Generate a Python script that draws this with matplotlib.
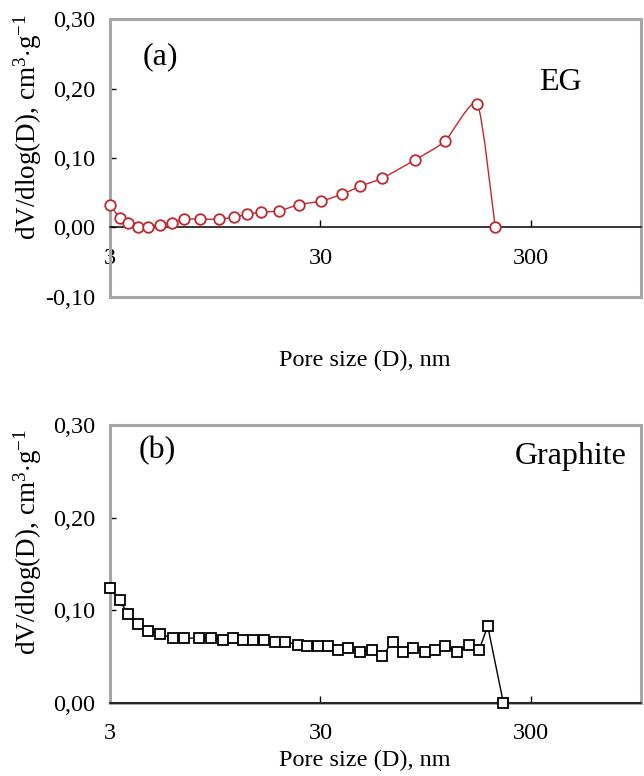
import numpy as np
import matplotlib
matplotlib.use("Agg")
import matplotlib.pyplot as plt
from matplotlib.path import Path
from matplotlib.patches import PathPatch, Rectangle
from matplotlib.ticker import FixedLocator, FixedFormatter, NullLocator

plt.rcParams['font.family'] = ['Liberation Serif', 'DejaVu Serif']
plt.rcParams['mathtext.fontset'] = 'custom'
plt.rcParams['mathtext.rm'] = 'Liberation Serif'
plt.rcParams['mathtext.it'] = 'Liberation Serif:italic'

# (a) expanded graphite
d_eg = [3.00, 3.35, 3.67, 4.09, 4.57, 5.19, 5.90, 6.75, 8.05, 9.84, 11.7, 13.4,
        15.7, 19.1, 23.8, 30.3, 38.1, 46.0, 59.0, 84.1, 117, 167, 203]
v_eg = [0.033, 0.013, 0.007, 0.001, 0.001, 0.004, 0.007, 0.012, 0.012, 0.012,
        0.015, 0.019, 0.022, 0.024, 0.033, 0.038, 0.048, 0.059, 0.071, 0.097,
        0.124, 0.178, 0.000]

# (b) graphite
d_gr = [3.00, 3.33, 3.65, 4.07, 4.57, 5.21, 5.96, 6.77, 7.92, 9.03, 10.3, 11.5,
        12.9, 14.4, 16.1, 18.2, 20.4, 23.4, 26.0, 29.2, 32.6, 36.4, 40.7, 46.0,
        53.0, 59.1, 66.1, 73.8, 82.5, 93.9, 105, 117, 134, 152, 170, 187, 222]
v_gr = [0.124, 0.111, 0.096, 0.085, 0.078, 0.074, 0.070, 0.070, 0.070, 0.070,
        0.068, 0.070, 0.068, 0.068, 0.068, 0.066, 0.066, 0.063, 0.061, 0.061,
        0.061, 0.057, 0.059, 0.055, 0.057, 0.051, 0.066, 0.055, 0.059, 0.055,
        0.057, 0.061, 0.055, 0.063, 0.057, 0.083, 0.000]

x_ticks = [3, 30, 300]
x_ticklabels = ['3', '30', '300']
y_ticks_a = [-0.10, 0.00, 0.10, 0.20, 0.30]
y_ticklabels_a = ['-0,10', '0,00', '0,10', '0,20', '0,30']
y_ticks_b = [0.00, 0.10, 0.20, 0.30]
y_ticklabels_b = ['0,00', '0,10', '0,20', '0,30']

RED = '#c1272d'
FRAME = '#a6a6a6'


def smooth_path(x, y, k=10.0):
    # cubic Bezier through the points, tangents taken in log-x space
    lx = np.log10(np.asarray(x, float))
    yy = np.asarray(y, float)
    px = np.r_[lx[0], lx, lx[-1]]
    py = np.r_[yy[0], yy, yy[-1]]
    verts = [(x[0], y[0])]
    codes = [Path.MOVETO]
    for i in range(1, len(px) - 2):
        c1x = px[i] + (px[i + 1] - px[i - 1]) / k
        c1y = py[i] + (py[i + 1] - py[i - 1]) / k
        c2x = px[i + 1] - (px[i + 2] - px[i]) / k
        c2y = py[i + 1] - (py[i + 2] - py[i]) / k
        verts += [(10 ** c1x, c1y), (10 ** c2x, c2y), (10 ** px[i + 1], py[i + 1])]
        codes += [Path.CURVE4] * 3
    return Path(verts, codes)


def style_axes(ax, yticks, ylabels, ylim):
    ax.set_xscale('log')
    ax.set_xlim(3, 1000)
    ax.set_ylim(*ylim)
    ax.xaxis.set_major_locator(FixedLocator(x_ticks))
    ax.xaxis.set_major_formatter(FixedFormatter(x_ticklabels))
    ax.xaxis.set_minor_locator(NullLocator())
    ax.yaxis.set_major_locator(FixedLocator(yticks))
    ax.yaxis.set_major_formatter(FixedFormatter(ylabels))
    ax.tick_params(axis='x', direction='in', length=5, width=1, pad=14.5,
                   labelsize=17.5, color='black')
    ax.tick_params(axis='y', direction='in', length=4.5, width=1, pad=10.5,
                   labelsize=17.5, color='black')
    for s in ('left', 'right', 'top'):
        ax.spines[s].set_visible(False)
    ax.spines['bottom'].set_color('black')
    ax.spines['bottom'].set_linewidth(1.1)
    ax.spines['bottom'].set_zorder(3)
    ax.add_patch(Rectangle((0, 0), 1, 1, transform=ax.transAxes, fill=False,
                           ec=FRAME, lw=2.2, clip_on=False, zorder=2))
    ax.set_xlabel('Pore size (D), nm', fontsize=17.5)
    ax.set_ylabel(r'dV/dlog(D), cm$^{3}$$\cdot$g$^{-1}$', fontsize=19.5)


fig = plt.figure(figsize=(6.44, 7.76), dpi=100)

ax1 = fig.add_axes([0.1708, 0.6173, 0.8245, 0.3582])
style_axes(ax1, y_ticks_a, y_ticklabels_a, (-0.10, 0.30))
ax1.spines['bottom'].set_position(('data', 0))
ax1.add_patch(PathPatch(smooth_path(d_eg, v_eg), fill=False, ec=RED, lw=1,
                        transform=ax1.transData, zorder=4))
ax1.plot(d_eg, v_eg, linestyle='none', marker='o', ms=7.6, mfc='white',
         mec=RED, mew=1.3, clip_on=False, zorder=5)
ax1.xaxis.set_label_coords(0.48, -0.19)
ax1.yaxis.set_label_coords(-0.125, 0.61)
ax1.text(0.062, 0.915, '(a)', transform=ax1.transAxes, fontsize=23, va='top')
ax1.text(0.808, 0.77, 'EG', transform=ax1.transAxes, fontsize=23, va='center')

ax2 = fig.add_axes([0.1708, 0.0941, 0.8245, 0.3582])
style_axes(ax2, y_ticks_b, y_ticklabels_b, (0.0, 0.30))
ax2.plot(d_gr, v_gr, color='black', lw=1, marker='s', ms=6.8, mfc='white',
         mec='black', mew=1.3, clip_on=False, zorder=5)
ax2.xaxis.set_label_coords(0.48, -0.17)
ax2.yaxis.set_label_coords(-0.125, 0.58)
ax2.text(0.053, 0.962, '(b)', transform=ax2.transAxes, fontsize=23, va='top')
ax2.text(0.763, 0.885, 'Graphite', transform=ax2.transAxes, fontsize=23,
         va='center')

fig.savefig('out.png', dpi=100)
